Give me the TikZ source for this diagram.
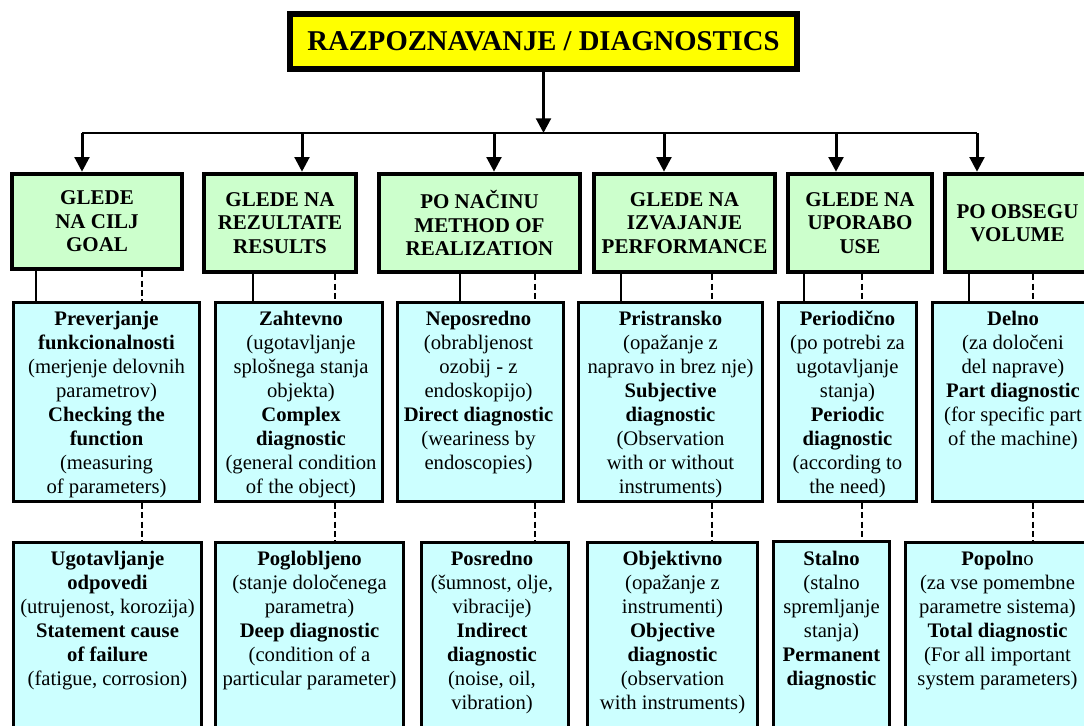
\documentclass[tikz,border=0pt]{standalone}
\usepackage{fontspec}
\setmainfont{Liberation Serif}
\usetikzlibrary{arrows.meta,fit,calc}

\definecolor{titleyellow}{RGB}{255,255,0}
\definecolor{headgreen}{RGB}{204,255,204}
\definecolor{leafcyan}{RGB}{204,255,255}

\tikzset{
  titlebox/.style={draw, line width=4.5pt, fill=titleyellow, inner sep=0pt, font=\fontsize{21.5}{25}\selectfont\bfseries},
  headbox/.style={draw, line width=3.4pt, fill=headgreen, inner sep=0pt, align=center, font=\fontsize{15.75}{17.6}\selectfont\bfseries},
  leafbox/.style={draw, line width=2.25pt, fill=leafcyan, inner sep=0pt},
  leaftext/.style={anchor=north, align=center, inner sep=0pt, font=\fontsize{15.5}{18}\selectfont},
  downarrow/.style={line width=2.25pt, -{Triangle[length=11pt,width=11pt]}},
  solidlink/.style={line width=1.5pt},
  dashlink/.style={line width=1.5pt, dash pattern=on 4.5pt off 2.5pt}
}

\begin{document}
\begin{tikzpicture}[x=0.75pt,y=0.75pt,yscale=-1]
  \path[use as bounding box, clip] (0,0) rectangle (1084,725);

  %Title
  \node[titlebox, minimum width=380.25pt, minimum height=41.25pt] (title) at (543.5,41.5) {RAZPOZNAVANJE / DIAGNOSTICS};

  %Bar and its drop points
  \coordinate (bar1) at (82,133);
  \coordinate (bar2) at (302,133);
  \coordinate (bar3) at (494,133);
  \coordinate (bar4) at (664,133);
  \coordinate (bar5) at (836,133);
  \coordinate (bar6) at (977,133);

  %Headers
  \node[headbox, minimum width=127.5pt, minimum height=71.25pt] (h1) at (97,221.5) {GLEDE\\NA CILJ\\GOAL};
  \node[headbox, minimum width=114pt, minimum height=73.5pt] (h2) at (280,223) {GLEDE NA\\REZULTATE\\RESULTS};
  \node[headbox, minimum width=150.75pt, minimum height=73.5pt] (h3) at (479.5,223) {PO NAČINU\\METHOD OF\\REALIZATION};
  \node[headbox, minimum width=135.75pt, minimum height=73.5pt] (h4) at (684.5,223) {GLEDE NA\\IZVAJANJE\\PERFORMANCE};
  \node[headbox, minimum width=108pt, minimum height=73.5pt] (h5) at (860,223) {GLEDE NA\\UPORABO\\USE};
  \node[headbox, minimum width=108.75pt, minimum height=73.5pt] (h6) at (1017.5,223) {PO OBSEGU\\VOLUME};

  %Arrows
  \draw[downarrow] (title.south) -- (title.south |- bar1);
  \draw[solidlink] (bar1) -- (bar6);
  \draw[downarrow] (bar1) -- (bar1 |- h1.north);
  \draw[downarrow] (bar2) -- (bar2 |- h2.north);
  \draw[downarrow] (bar3) -- (bar3 |- h3.north);
  \draw[downarrow] (bar4) -- (bar4 |- h4.north);
  \draw[downarrow] (bar5) -- (bar5 |- h5.north);
  \draw[downarrow] (bar6) -- (bar6 |- h6.north);

  %First row
  \node[leafbox, fit={(13.5,302.5) (199.5,501.5)}] (p1) {};
  \node[leafbox, fit={(215.5,302.5) (382.5,501.5)}] (p2) {};
  \node[leafbox, fit={(397.5,302.5) (563.5,501.5)}] (p3) {};
  \node[leafbox, fit={(578.5,302.5) (762.5,501.5)}] (p4) {};
  \node[leafbox, fit={(778.5,302.5) (916.5,501.5)}] (p5) {};
  \node[leafbox, fit={(932.5,302.5) (1093.5,501.5)}] (p6) {};

  %Second row
  \node[leafbox, fit={(13.5,542.5) (201.5,745)}] (q1) {};
  \node[leafbox, fit={(215.5,542.5) (403.5,745)}] (q2) {};
  \node[leafbox, fit={(421.5,542.5) (568.5,745)}] (q3) {};
  \node[leafbox, fit={(587.5,542.5) (757.5,745)}] (q4) {};
  \node[leafbox, fit={(773.5,541) (889.5,745)}] (q5) {};
  \node[leafbox, fit={(905.5,542.5) (1093.5,745)}] (q6) {};

  %Link points
  \coordinate (s1) at (36,0);   \coordinate (d1) at (142,0);
  \coordinate (s2) at (253,0);  \coordinate (d2) at (335,0);
  \coordinate (s3) at (460,0);  \coordinate (d3) at (535,0);
  \coordinate (s4) at (621,0);  \coordinate (d4) at (712,0);
  \coordinate (s5) at (804,0);  \coordinate (d5) at (862,0);
  \coordinate (s6) at (969,0);  \coordinate (d6) at (1033,0);

  %Straight Lines
  \draw[solidlink] (s1 |- h1.south) -- (s1 |- p1.north);
  \draw[solidlink] (s2 |- h2.south) -- (s2 |- p2.north);
  \draw[solidlink] (s3 |- h3.south) -- (s3 |- p3.north);
  \draw[solidlink] (s4 |- h4.south) -- (s4 |- p4.north);
  \draw[solidlink] (s5 |- h5.south) -- (s5 |- p5.north);
  \draw[solidlink] (s6 |- h6.south) -- (s6 |- p6.north);

  %Dashed Lines
  \draw[dashlink] (d1 |- h1.south) -- (d1 |- p1.north);
  \draw[dashlink] (d2 |- h2.south) -- (d2 |- p2.north);
  \draw[dashlink] (d3 |- h3.south) -- (d3 |- p3.north);
  \draw[dashlink] (d4 |- h4.south) -- (d4 |- p4.north);
  \draw[dashlink] (d5 |- h5.south) -- (d5 |- p5.north);
  \draw[dashlink] (d6 |- h6.south) -- (d6 |- p6.north);
  \draw[dashlink] (d1 |- p1.south) -- (d1 |- q1.north);
  \draw[dashlink] (d2 |- p2.south) -- (d2 |- q2.north);
  \draw[dashlink] (d3 |- p3.south) -- (d3 |- q3.north);
  \draw[dashlink] (d4 |- p4.south) -- (d4 |- q4.north);
  \draw[dashlink] (d5 |- p5.south) -- (d5 |- q5.north);
  \draw[dashlink] (d6 |- p6.south) -- (d6 |- q6.north);

  % Text Node
  \node[leaftext] (p1t) at ($(p1.north)+(0,10)$) {\textbf{Preverjanje}\\\textbf{funkcionalnosti}\\(merjenje delovnih\\parametrov)\\\textbf{Checking the}\\\textbf{function}\\(measuring\\of parameters)};
  % Text Node
  \node[leaftext] (p2t) at ($(p2.north)+(2,10)$) {\textbf{Zahtevno}\\(ugotavljanje\\splošnega stanja\\objekta)\\\textbf{Complex}\\\textbf{diagnostic}\\(general condition\\of the object)};
  % Text Node
  \node[leaftext] (p3t) at ($(p3.north)+(-2,10)$) {\textbf{Neposredno}\\(obrabljenost\\ozobij - z\\endoskopijo)\\\textbf{Direct diagnostic}\\(weariness by\\endoscopies)};
  % Text Node
  \node[leaftext] (p4t) at ($(p4.north)+(0,10)$) {\textbf{Pristransko}\\(opažanje z\\napravo in brez nje)\\\textbf{Subjective}\\\textbf{diagnostic}\\(Observation\\with or without\\instruments)};
  % Text Node
  \node[leaftext] (p5t) at ($(p5.north)+(0,10)$) {\textbf{Periodično}\\(po potrebi za\\ugotavljanje\\stanja)\\\textbf{Periodic}\\\textbf{diagnostic}\\(according to\\the need)};
  % Text Node
  \node[leaftext] (p6t) at ($(p6.north)+(0,10)$) {\textbf{Delno}\\(za določeni\\del naprave)\\\textbf{Part diagnostic}\\(for specific part\\of the machine)};

  % Text Node
  \node[leaftext] (q1t) at ($(q1.north)+(0,10)$) {\textbf{Ugotavljanje}\\\textbf{odpovedi}\\(utrujenost, korozija)\\\textbf{Statement cause}\\\textbf{of failure}\\(fatigue, corrosion)};
  % Text Node
  \node[leaftext] (q2t) at ($(q2.north)+(0,10)$) {\textbf{Poglobljeno}\\(stanje določenega\\parametra)\\\textbf{Deep diagnostic}\\(condition of a\\particular parameter)};
  % Text Node
  \node[leaftext] (q3t) at ($(q3.north)+(-3,10)$) {\textbf{Posredno}\\(šumnost, olje,\\vibracije)\\\textbf{Indirect}\\\textbf{diagnostic}\\(noise, oil,\\vibration)};
  % Text Node
  \node[leaftext] (q4t) at ($(q4.north)+(0,10)$) {\textbf{Objektivno}\\(opažanje z\\instrumenti)\\\textbf{Objective}\\\textbf{diagnostic}\\(observation\\with instruments)};
  % Text Node
  \node[leaftext] (q5t) at ($(q5.north)+(0,11.5)$) {\textbf{Stalno}\\(stalno\\spremljanje\\stanja)\\\textbf{Permanent}\\\textbf{diagnostic}};
  % Text Node
  \node[leaftext] (q6t) at ($(q6.north)+(-2,10)$) {\textbf{Popoln}o\\(za vse pomembne\\parametre sistema)\\\textbf{Total diagnostic}\\(For all important\\system parameters)};
\end{tikzpicture}
\end{document}
